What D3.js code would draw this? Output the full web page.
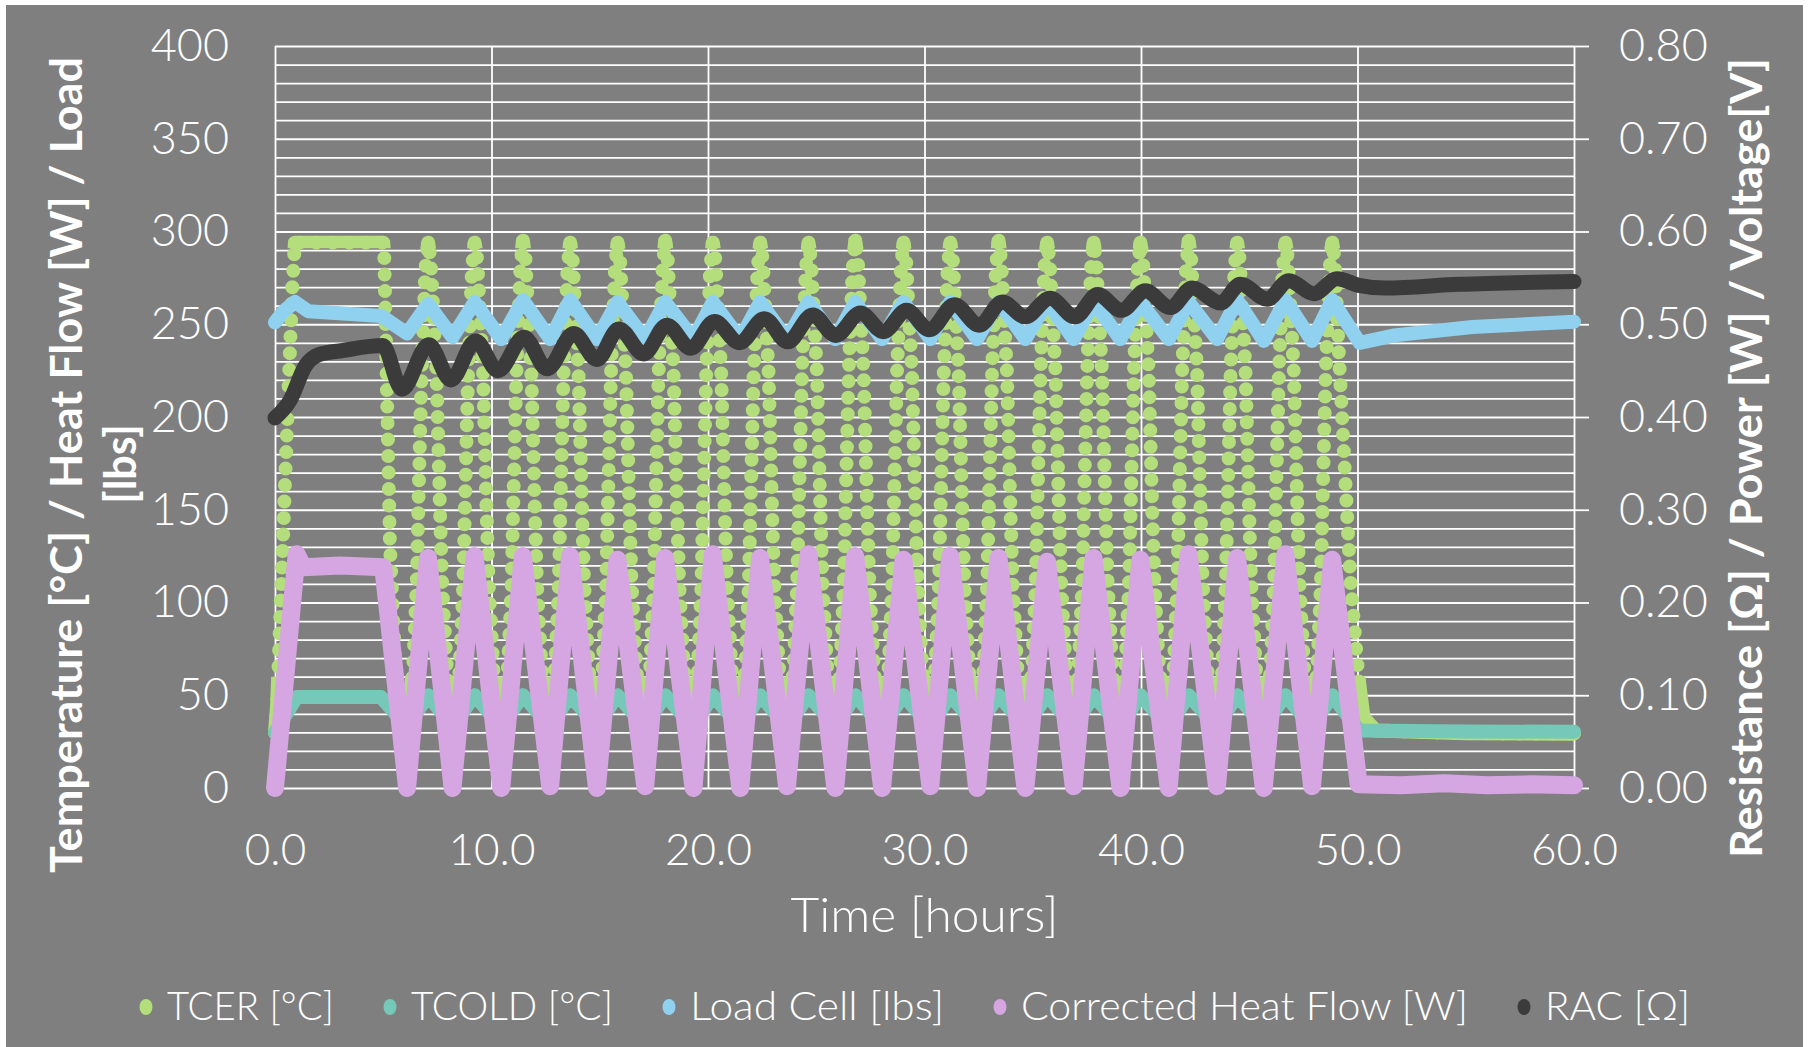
<!DOCTYPE html>
<html lang="en">
<head>
<meta charset="UTF-8">
<title>Thermal cycling</title>
<script src="https://d3js.org/d3.v7.min.js"></script>
<style>
  body { margin: 0; background: #fff; }
  text { fill: #fff; font-family: "Century Gothic", "URW Gothic", Lato, sans-serif; }
</style>
</head>
<body>
<svg width="1808" height="1047" id="mainsvg"></svg>
<script>
// ---- values ----
const xTicks = [0, 10, 20, 30, 40, 50, 60]
const yTicks = [0, 50, 100, 150, 200, 250, 300, 350, 400]
const yRightTicks = [0, 0.1, 0.2, 0.3, 0.4, 0.5, 0.6, 0.7, 0.8]
const seriesNames = ["TCER [°C]", "TCOLD [°C]", "Load Cell [lbs]", "Corrected Heat Flow [W]", "RAC [Ω]"]
const seriesColors = ["#b4de7c", "#76c8b8", "#8fd1ef", "#d5a6e1", "#3b3b3b"]

// cycle timing (hours): heat flow peaks and the zero points before them
const cyclePeakT = [7.07, 9.22, 11.45, 13.63, 15.82, 18.02, 20.22, 22.41, 24.64, 26.80,
                    29.03, 31.19, 33.42, 35.66, 37.81, 39.97, 42.20, 44.44, 46.67, 48.83]
const cycleTroughT = [6.10, 8.20, 10.45, 12.71, 14.87, 17.10, 19.33, 21.49, 23.65, 25.88,
                      28.04, 30.27, 32.43, 34.66, 36.89, 39.05, 41.28, 43.51, 45.67, 47.90]

// TCER [°C]
const tcerStart = [[0, 30], [0.1, 45], [0.45, 160], [0.8, 270], [0.92, 294], [5.0, 294],
                   [5.05, 286], [5.31, 131], [5.62, 49]]
const tcerPeak = [294, 294, 295, 294, 294, 295, 294, 294, 294, 295, 294, 294, 295, 294, 294, 294, 295, 294, 294, 294]
const tcerTrough = [40, 38, 38, 37, 37, 37, 36, 36, 36, 36, 36, 36, 36, 36, 36, 36, 36, 36, 36, 36]
const tcerRiseDt = [-0.70, -0.52, -0.45, -0.30, -0.12]
const tcerRiseV = [62, 110, 150, 224, 280]
const tcerFallDt = [0.12, 0.39, 0.55, 0.65, 0.88]
const tcerFallV = [285, 224, 150, 110, 62]
const tcerEnd = [[48.95, 285], [49.14, 234], [49.68, 111], [50.05, 59], [50.28, 38], [50.83, 31], [55, 29.5], [60, 29.3]]

// TCOLD [°C]
const tcoldStart = [[0, 30], [1.0, 49], [4.9, 49]]
const tcoldPeak = [50, 50, 50, 50, 50, 50, 50, 50, 50, 50, 50, 50, 50, 50, 50, 50, 50, 50, 50, 50]
const tcoldTrough = [33, 33, 33, 33, 33, 33, 33, 33, 33, 33, 33, 33, 33, 33, 33, 33, 33, 33, 33, 33]
const tcoldEnd = [[50.06, 31], [55, 30.5], [60, 30.3]]

// Load Cell [lbs]
const loadStart = [[0, 251], [0.4, 257], [0.92, 262], [1.54, 257], [4.9, 254.5]]
const loadPeak = [261, 262, 263, 263, 262, 262, 262, 262, 262, 262, 262, 262, 262, 262, 262, 262, 262, 263, 263, 263]
const loadTrough = [245, 243, 242, 242, 242, 242, 242, 242, 242, 242, 242, 242, 242, 242, 242, 242, 242, 242, 241, 241]
const loadEnd = [[50.1, 240], [51.7, 244], [55.3, 248.5], [60, 251.4]]

// Corrected Heat Flow [W]
const hfStart = [[0, 0], [1.0, 126], [1.3, 119], [3.0, 120], [5.0, 119]]
const hfPeak = [124, 125, 125, 125, 123, 124, 126, 124, 126, 125, 123, 125, 124, 122, 124, 123, 126, 124, 126, 123]
const hfTrough = [0, 0, 0, 1, 0, 1, 0, 0, 1, 0, 0, 1, 0, 0, 1, 0, 0, 1, 0, 1]
const hfEnd = [[50.05, 2], [52, 1.5], [54, 2.5], [56, 1.5], [58, 2], [60, 1.5]]

// RAC [Ω]
const racT = [0, 0.7, 1.4, 2.0, 3.2, 4.98, 5.86, 7.1, 8.12, 9.27, 10.3, 11.5, 12.57, 13.8, 14.87, 15.88,
              17.03, 18.1, 19.2, 20.3, 21.45, 22.6, 23.68, 24.83, 25.9, 27.04, 28.1, 29.17, 30.23, 31.38,
              32.53, 33.59, 34.65, 35.8, 36.95, 38.0, 39.1, 40.2, 41.36, 42.36, 43.67, 44.59, 45.83, 46.83,
              47.98, 49.06, 50.06, 51.3, 54.7, 60]
const racV = [0.399, 0.418, 0.455, 0.467, 0.472, 0.477, 0.430, 0.478, 0.440, 0.482, 0.450, 0.486, 0.452, 0.490, 0.462, 0.495,
              0.468, 0.499, 0.474, 0.503, 0.480, 0.506, 0.481, 0.510, 0.488, 0.512, 0.492, 0.515, 0.494, 0.521,
              0.499, 0.524, 0.508, 0.528, 0.508, 0.532, 0.515, 0.536, 0.518, 0.539, 0.523, 0.543, 0.527, 0.547,
              0.533, 0.549, 0.542, 0.539, 0.543, 0.546]

// ---- build point lists ----
function buildCycles(start, peakV, troughV, end) {
    const pts = start.slice()
    cyclePeakT.forEach((tp, i) => {
        pts.push([cycleTroughT[i], troughV[i]])
        pts.push([tp, peakV[i]])
    })
    return pts.concat(end)
}
function buildTcer() {
    const pts = tcerStart.slice()
    const n = cyclePeakT.length
    cyclePeakT.forEach((tp, i) => {
        pts.push([cycleTroughT[i], tcerTrough[i]])
        tcerRiseDt.forEach((dt, j) => pts.push([tp + dt, tcerRiseV[j]]))
        pts.push([tp, tcerPeak[i]])
        if (i < n - 1) tcerFallDt.forEach((dt, j) => pts.push([tp + dt, tcerFallV[j]]))
    })
    return pts.concat(tcerEnd)
}
const tcer = buildTcer()
const tcold = buildCycles(tcoldStart, tcoldPeak, tcoldTrough, tcoldEnd)
const load = buildCycles(loadStart, loadPeak, loadTrough, loadEnd)
const heat = buildCycles(hfStart, hfPeak, hfTrough, hfEnd)
const rac = racT.map((t, i) => [t, racV[i]])

// ---- chart ----
const svg = d3.select("#mainsvg")
const width = +svg.attr("width"), height = +svg.attr("height")
const plot = {left: 275, right: 1574, top: 46, bottom: 788}

svg.append("rect").attr("x", 6).attr("y", 5).attr("width", width - 11).attr("height", height - 5)
    .attr("fill", "#7f7f7f")

const xScale = d3.scaleLinear().domain([0, 60]).range([plot.left, plot.right])
const yScale = d3.scaleLinear().domain([0, 400]).range([plot.bottom, plot.top])
const yRight = d3.scaleLinear().domain([0, 0.8]).range([plot.bottom, plot.top])

// horizontal gridlines every 10
const grid = svg.append("g").attr("transform", `translate(${plot.left},0)`)
    .call(d3.axisLeft(yScale).tickValues(d3.range(0, 401, 10)).tickSize(-(plot.right - plot.left)).tickFormat(""))
grid.select(".domain").remove()
grid.selectAll("line").attr("stroke", "#fff").attr("stroke-width", 1.8)

// x axis with vertical gridlines
const xAxis = svg.append("g").attr("transform", `translate(0,${plot.bottom})`)
    .call(d3.axisBottom(xScale).tickValues(xTicks).tickSize(-(plot.bottom - plot.top))
        .tickPadding(46).tickFormat(d3.format(".1f")))
xAxis.select(".domain").remove()
xAxis.selectAll("line").attr("stroke", "#fff").attr("stroke-width", 1.8)
xAxis.selectAll("text").attr("fill", "#fff").style("font-size", "44px").style("font-weight", 300)

// left axis labels
const yAxis = svg.append("g").attr("transform", `translate(${plot.left},0)`)
    .call(d3.axisLeft(yScale).tickValues(yTicks).tickSize(0).tickPadding(46))
yAxis.select(".domain").remove()
yAxis.selectAll("text").attr("fill", "#fff").style("font-size", "45px").style("font-weight", 300)

// right axis
const yAxisR = svg.append("g").attr("transform", `translate(${plot.right},0)`)
    .call(d3.axisRight(yRight).tickValues(yRightTicks).tickSize(15).tickPadding(30).tickFormat(d3.format(".2f")))
yAxisR.select(".domain").remove()
yAxisR.selectAll("line").attr("stroke", "#fff").attr("stroke-width", 1.8)
yAxisR.selectAll("text").attr("fill", "#fff").style("font-size", "45px").style("font-weight", 300)
svg.selectAll("g[font-family]").attr("font-family", null)

// ---- series ----
const lineL = d3.line().x(d => xScale(d[0])).y(d => yScale(d[1]))
const lineR = d3.line().x(d => xScale(d[0])).y(d => yRight(d[1])).curve(d3.curveMonotoneX)

const defs = svg.append("defs")
defs.append("clipPath").attr("id", "tcerLow").append("rect")
    .attr("x", 0).attr("y", yScale(60)).attr("width", width).attr("height", height - yScale(60))
defs.append("clipPath").attr("id", "tcerHigh").append("rect")
    .attr("x", 0).attr("y", 0).attr("width", width).attr("height", yScale(291))

// TCER: markers along the path, merged where the samples crowd together
svg.append("path").datum(tcer).attr("d", lineL)
    .attr("fill", "none").attr("stroke", seriesColors[0]).attr("stroke-width", 14)
    .attr("stroke-linecap", "round").attr("stroke-dasharray", "0 16.5")
;["tcerLow", "tcerHigh"].forEach(id => {
    svg.append("path").datum(tcer).attr("d", lineL).attr("clip-path", `url(#${id})`)
        .attr("fill", "none").attr("stroke", seriesColors[0]).attr("stroke-width", 14)
        .attr("stroke-linecap", "round").attr("stroke-linejoin", "round")
})

const solid = [[tcold, lineL, 1, 14], [load, lineL, 2, 14], [heat, lineL, 3, 18], [rac, lineR, 4, 15]]
solid.forEach(([data, gen, ci, sw]) => {
    svg.append("path").datum(data).attr("d", gen)
        .attr("fill", "none").attr("stroke", seriesColors[ci]).attr("stroke-width", sw)
        .attr("stroke-linecap", "round").attr("stroke-linejoin", "round")
})

// ---- titles ----
svg.append("text").attr("transform", "translate(82,465) rotate(-90)").attr("text-anchor", "middle")
    .style("font-size", "43px").style("font-weight", "bold")
    .attr("textLength", 816).attr("lengthAdjust", "spacingAndGlyphs")
    .text("Temperature [°C] / Heat Flow [W] / Load")
svg.append("text").attr("transform", "translate(136,464) rotate(-90)").attr("text-anchor", "middle")
    .style("font-size", "43px").style("font-weight", "bold")
    .text("[lbs]")
svg.append("text").attr("transform", "translate(1762,458) rotate(-90)").attr("text-anchor", "middle")
    .style("font-size", "43px").style("font-weight", "bold")
    .attr("textLength", 800).attr("lengthAdjust", "spacingAndGlyphs")
    .text("Resistance [Ω] / Power [W] / Voltage[V]")
svg.append("text").attr("x", (plot.left + plot.right) / 2).attr("y", 932).attr("text-anchor", "middle")
    .style("font-size", "48px").style("font-weight", 300)
    .attr("textLength", 268).attr("lengthAdjust", "spacingAndGlyphs")
    .text("Time [hours]")

// ---- legend ----
const legendWidths = [167, 202, 254, 447, 145]   // label widths in the original layout
const legend = svg.append("g")
let lx = 0
seriesNames.forEach((name, i) => {
    const item = legend.append("g").attr("transform", `translate(${lx},0)`)
    item.append("ellipse").attr("cx", 0).attr("cy", -13).attr("rx", 6.5).attr("ry", 8).attr("fill", seriesColors[i])
    item.append("text").attr("x", 21).attr("y", 0)
        .style("font-size", "39px").style("font-weight", 300)
        .attr("textLength", legendWidths[i]).attr("lengthAdjust", "spacingAndGlyphs")
        .text(name)
    lx += 21 + legendWidths[i] + 56
})
legend.attr("transform", "translate(146,1020)")
</script>
</body>
</html>
